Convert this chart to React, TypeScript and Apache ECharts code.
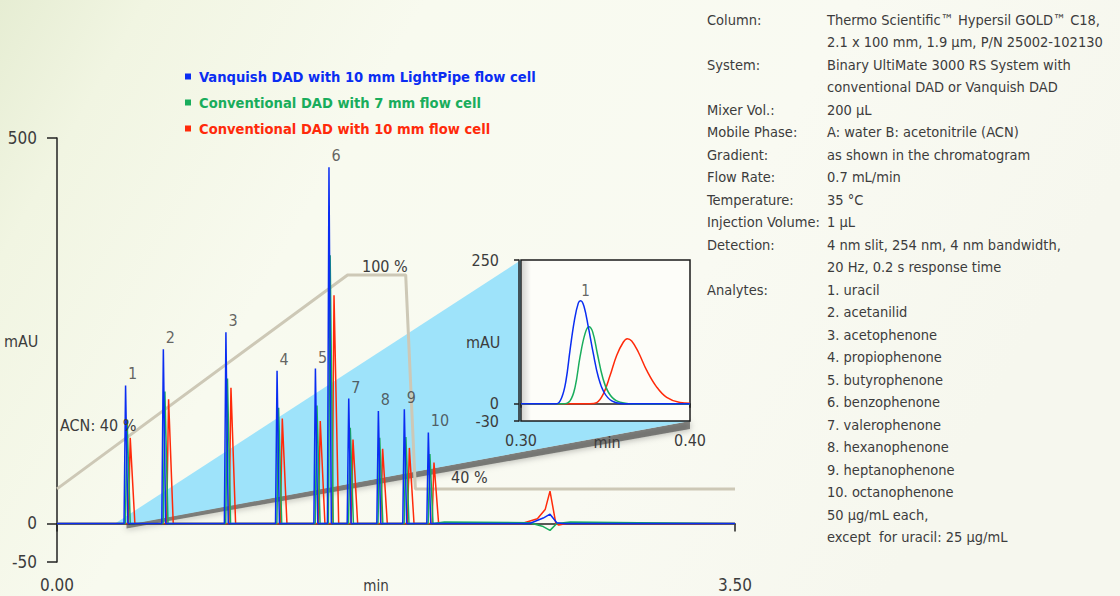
import React, { useEffect, useRef } from "react";
import * as echarts from "echarts";

// ---------- data ----------
const seriesNames = [
  "Vanquish DAD with 10 mm LightPipe flow cell",
  "Conventional DAD with 7 mm flow cell",
  "Conventional DAD with 10 mm flow cell",
];
const seriesColors = ["#0a2df2", "#19ad5c", "#ff2a0a"];
const peakLabels = ["1", "2", "3", "4", "5", "6", "7", "8", "9", "10"];

const blueTimes = [0.354, 0.549, 0.872, 1.136, 1.334, 1.404, 1.506, 1.659, 1.793, 1.917];
const blueHeights = [179, 226, 248, 198, 201, 462, 162, 146, 148, 118];
const greenTimes = [0.362, 0.557, 0.88, 1.144, 1.342, 1.41, 1.514, 1.666, 1.801, 1.925];
const greenHeights = [134, 171, 188, 150, 153, 348, 124, 111, 112, 90];
const redTimes = [0.378, 0.576, 0.898, 1.163, 1.359, 1.43, 1.528, 1.681, 1.819, 1.946];
const redHeights = [111, 161, 176, 136, 133, 296, 109, 97, 98, 79];

// peak foot widths (min): [left, right]
const blueWidths = [0.008, 0.012];
const greenWidths = [0.009, 0.016];
const redWidths = [0.01, 0.024];

// baseline after the last peak (system disturbance near 2.55 min)
const blueTail = [[2.44, 0], [2.51, 7], [2.545, 12], [2.58, 1], [2.61, 0], [3.5, 0]];
const greenTail = [[2.0, 2], [2.44, 1], [2.51, -4], [2.545, -9], [2.58, 0], [2.65, 2], [3.0, 1], [3.5, 0]];
const redTail = [[2.4, 0], [2.48, 6], [2.52, 18], [2.545, 42], [2.575, 0], [2.59, -2], [2.63, 0], [3.5, 0]];

// gradient programme (% ACN)
const gradientTimes = [0, 1.5, 1.8, 1.85, 3.5];
const gradientPct = [40, 100, 100, 40, 40];

// inset: peak 1 enlarged (min, mAU)
const insetBlue = [
  [0.3, 0], [0.3211, 0], [0.3241, 11], [0.3266, 40], [0.329, 93], [0.3316, 145], [0.3339, 175],
  [0.3353, 179], [0.3373, 169], [0.3398, 134], [0.3428, 87], [0.3458, 46], [0.3491, 20],
  [0.3537, 5], [0.3605, 0], [0.4, 0],
];
const insetGreen = [
  [0.3, 0], [0.325, 0], [0.329, 5], [0.332, 29], [0.3349, 81], [0.3379, 122], [0.3402, 134],
  [0.3424, 125], [0.3452, 87], [0.3483, 46], [0.3517, 20], [0.3566, 5], [0.3665, 0], [0.4, 0],
];
const insetRed = [
  [0.3, 0], [0.3408, 0], [0.3448, 2], [0.3487, 17], [0.3527, 49], [0.3566, 84], [0.3605, 107],
  [0.3629, 113], [0.3655, 109], [0.3694, 90], [0.3744, 58], [0.3803, 29], [0.3862, 11],
  [0.3941, 2], [0.4, 1],
];

const infoLabels = [
  "Column:", "", "System:", "", "Mixer Vol.:", "Mobile Phase:", "Gradient:", "Flow Rate:",
  "Temperature:", "Injection Volume:", "Detection:", "", "Analytes:",
];
const infoValues = [
  "Thermo Scientific™ Hypersil GOLD™ C18,",
  "2.1 x 100 mm, 1.9 µm, P/N 25002-102130",
  "Binary UltiMate 3000 RS System with",
  "conventional DAD or Vanquish DAD",
  "200 µL",
  "A: water B: acetonitrile (ACN)",
  "as shown in the chromatogram",
  "0.7 mL/min",
  "35 °C",
  "1 µL",
  "4 nm slit, 254 nm, 4 nm bandwidth,",
  "20 Hz, 0.2 s response time",
  "1. uracil",
  "2. acetanilid",
  "3. acetophenone",
  "4. propiophenone",
  "5. butyrophenone",
  "6. benzophenone",
  "7. valerophenone",
  "8. hexanophenone",
  "9. heptanophenone",
  "10. octanophenone",
  "50 µg/mL each,",
  "except  for uracil: 25 µg/mL",
];

// ---------- helpers ----------
function buildTrace(times: number[], heights: number[], widths: number[], tail: number[][]) {
  const pts: number[][] = [[0, 0]];
  times.forEach((t, i) => {
    pts.push([t - widths[0], 0], [t, heights[i]], [t + widths[1], 0]);
  });
  return pts.concat(tail);
}

const FONT = "'Liberation Sans Narrow', 'DejaVu Sans Condensed', Roboto, sans-serif";
const TXT = "#3c3c3c";

export default function App() {
  const ref = useRef<HTMLDivElement>(null);

  useEffect(() => {
    if (!ref.current) return;
    const chart = echarts.init(ref.current, undefined, { renderer: "svg" });

    const mainData = [
      buildTrace(blueTimes, blueHeights, blueWidths, blueTail),
      buildTrace(greenTimes, greenHeights, greenWidths, greenTail),
      buildTrace(redTimes, redHeights, redWidths, redTail),
    ];
    const insetData = [insetBlue, insetGreen, insetRed];

    const series: any[] = [];
    // draw red, green, blue (blue on top)
    [2, 1, 0].forEach((k) => {
      series.push({
        name: seriesNames[k],
        type: "line",
        xAxisIndex: 0,
        yAxisIndex: 0,
        data: mainData[k],
        symbol: "none",
        lineStyle: { color: seriesColors[k], width: 1.5 },
        itemStyle: { color: seriesColors[k] },
        z: 4,
      });
    });
    series.push({
      name: "gradient",
      type: "line",
      xAxisIndex: 0,
      yAxisIndex: 1,
      data: gradientTimes.map((t, i) => [t, gradientPct[i]]),
      symbol: "none",
      lineStyle: { color: "#cdc8b6", width: 3 },
      z: 3,
    });
    series.push({
      name: "peak labels",
      type: "scatter",
      xAxisIndex: 0,
      yAxisIndex: 0,
      data: blueTimes.map((t, i) => ({ value: [t, blueHeights[i]], label: { formatter: peakLabels[i] } })),
      symbolSize: 1,
      itemStyle: { color: "rgba(0,0,0,0)" },
      label: { show: true, position: [3, -19], fontSize: 16, color: TXT, fontFamily: FONT },
      silent: true,
      z: 5,
    });
    [2, 1, 0].forEach((k) => {
      series.push({
        name: seriesNames[k],
        type: "line",
        xAxisIndex: 1,
        yAxisIndex: 2,
        data: insetData[k],
        symbol: "none",
        smooth: 0.4,
        lineStyle: { color: seriesColors[k], width: 1.5 },
        itemStyle: { color: seriesColors[k] },
        z: 6,
      });
    });
    series.push({
      name: "inset label",
      type: "scatter",
      xAxisIndex: 1,
      yAxisIndex: 2,
      data: [{ value: insetBlue[7], label: { formatter: peakLabels[0] } }],
      symbolSize: 1,
      itemStyle: { color: "rgba(0,0,0,0)" },
      label: { show: true, position: [1, -17], fontSize: 15, color: TXT, fontFamily: FONT },
      silent: true,
      z: 7,
    });

    const axisLine = { show: true, lineStyle: { color: "#222", width: 1.5 } };

    const texts: any[] = [];
    const FS = 14.5;
    infoLabels.forEach((s, i) => {
      if (!s) return;
      texts.push({
        type: "text", x: 707, y: 20 + i * 22.48, z: 10,
        style: { text: s, fill: TXT, fontSize: FS, fontFamily: FONT, verticalAlign: "middle" },
      });
    });
    infoValues.forEach((s, i) => {
      texts.push({
        type: "text", x: 827, y: 20 + i * 22.48, z: 10,
        style: { text: s, fill: TXT, fontSize: FS, fontFamily: FONT, verticalAlign: "middle" },
      });
    });
    const note = (s: string, x: number, y: number, size = 16, align = "left") => ({
      type: "text", x, y, z: 10,
      style: { text: s, fill: TXT, fontSize: size, fontFamily: FONT, verticalAlign: "middle", align },
    });
    texts.push(
      note("mAU", 4, 341),
      note("min", 376, 586, 15, "center"),
      note("mAU", 466, 342),
      note("min", 607, 442, 16, "center"),
      note("ACN: 40 %", 60, 425),
      note("100 %", 362, 266),
      note("40 %", 451, 477)
    );

    const option: any = {
      animation: false,
      backgroundColor: {
        type: "linear", x: 0, y: 0, x2: 1, y2: 0.3,
        colorStops: [
          { offset: 0, color: "#e6edd3" },
          { offset: 0.12, color: "#f1f5e2" },
          { offset: 0.35, color: "#f8faef" },
          { offset: 0.7, color: "#f9faf2" },
          { offset: 1, color: "#f6f7ee" },
        ],
      },
      textStyle: { fontFamily: FONT },
      legend: {
        orient: "vertical",
        left: 180,
        top: 64,
        itemWidth: 6,
        itemHeight: 6,
        itemGap: 11,
        icon: "rect",
        selectedMode: false,
        data: seriesNames.map((n, i) => ({
          name: n,
          itemStyle: { color: seriesColors[i] },
          textStyle: { color: seriesColors[i] },
        })),
        textStyle: { fontSize: 14.6, fontWeight: "bold", fontFamily: FONT, padding: [0, 0, 0, 3] },
      },
      grid: [
        { left: 57, top: 138, width: 678, height: 424, outerBoundsMode: "none", containLabel: false },
        {
          left: 521, top: 260, width: 169, height: 161, show: true, borderColor: "#1a1a1a", borderWidth: 1.5,
          backgroundColor: "#fdfdf9", z: 3, outerBoundsMode: "none", containLabel: false,
        },
      ],
      xAxis: [
        {
          type: "value", gridIndex: 0, min: 0, max: 3.5,
          axisLine,
          axisTick: { show: true, customValues: [0, 3.5], length: 8, lineStyle: { color: "#222", width: 1.5 } },
          axisLabel: { customValues: [0, 3.5], formatter: (v: number) => v.toFixed(2), margin: 14, fontSize: 17, color: TXT },
          splitLine: { show: false },
        },
        {
          type: "value", gridIndex: 1, min: 0.3, max: 0.4, offset: 2, z: 5,
          axisLine,
          axisTick: { show: true, customValues: [0.3, 0.4], length: 4, lineStyle: { color: "#222", width: 1.5 } },
          axisLabel: { customValues: [0.3, 0.4], formatter: (v: number) => v.toFixed(2), margin: 9, fontSize: 16, color: TXT },
          splitLine: { show: false },
        },
      ],
      yAxis: [
        {
          type: "value", gridIndex: 0, min: -50, max: 500,
          axisLine,
          axisTick: { show: true, customValues: [-50, 0, 500], length: 10, lineStyle: { color: "#222", width: 1.5 } },
          axisLabel: { customValues: [-50, 0, 500], margin: 20, fontSize: 17, color: TXT },
          splitLine: { show: false },
        },
        { type: "value", gridIndex: 0, min: 19.5, max: 138.4, show: false, splitLine: { show: false } },
        {
          type: "value", gridIndex: 1, min: -30, max: 250, offset: 2, z: 5,
          axisLine,
          axisTick: { show: true, customValues: [-30, 0, 250], length: 5, lineStyle: { color: "#222", width: 1.5 } },
          axisLabel: { customValues: [-30, 0, 250], margin: 20, fontSize: 16, color: TXT },
          splitLine: { show: false },
        },
      ],
      series,
      graphic: texts,
    };
    chart.setOption(option);

    // zoom callout wedge anchored to data (0.30–0.40 min) and the inset corners
    const a = chart.convertToPixel({ xAxisIndex: 0, yAxisIndex: 0 }, [0.3, 0]) as number[];
    const b = chart.convertToPixel({ xAxisIndex: 0, yAxisIndex: 0 }, [0.4, 0]) as number[];
    const tl = chart.convertToPixel({ xAxisIndex: 1, yAxisIndex: 2 }, [0.3, 250]) as number[];
    const br = chart.convertToPixel({ xAxisIndex: 1, yAxisIndex: 2 }, [0.4, -30]) as number[];
    chart.setOption({
      graphic: texts.concat([
        {
          type: "polygon", z: 1, silent: true,
          shape: { points: [[b[0] - 8, b[1] + 1], [br[0], br[1]], [br[0], br[1] + 8], [b[0] - 8, b[1] + 5]] },
          style: { fill: "rgba(50,50,50,0.55)", shadowBlur: 6, shadowColor: "rgba(0,0,0,0.5)", shadowOffsetY: 1 },
        },
        {
          type: "polygon", z: 2, silent: true,
          shape: { points: [[a[0], a[1]], [tl[0], tl[1]], [br[0], br[1]], [b[0], b[1]]] },
          style: { fill: "#9ee3fa" },
        },
        {
          type: "rect", z: 3, silent: true,
          shape: { x: tl[0] + 1, y: tl[1] + 1, width: 9, height: br[1] - tl[1] - 2 },
          style: {
            fill: {
              type: "linear", x: 0, y: 0, x2: 1, y2: 0,
              colorStops: [{ offset: 0, color: "rgba(0,0,0,0.16)" }, { offset: 1, color: "rgba(0,0,0,0)" }],
            },
          },
        },
      ]),
    });

    return () => chart.dispose();
  }, []);

  return <div ref={ref} style={{ position: "absolute", left: 0, top: 0, width: 1120, height: 596 }} />;
}
